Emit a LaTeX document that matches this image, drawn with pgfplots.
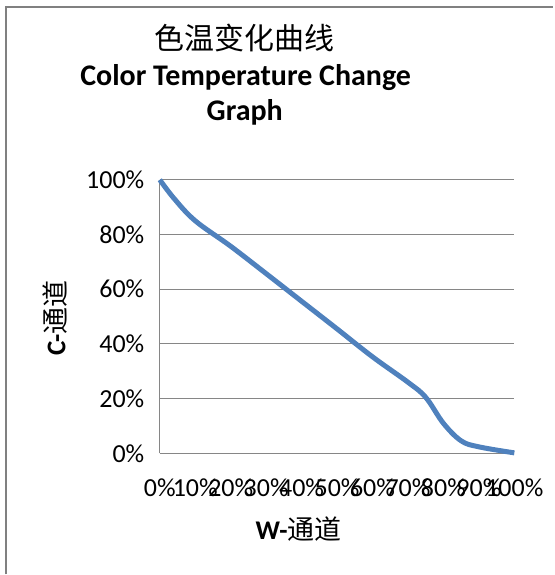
\documentclass[border=0pt]{standalone}
\usepackage{fontspec}
\setmainfont{Carlito}
\newfontfamily\cjk{Noto Sans CJK SC}
\usepackage{pgfplots}
\pgfplotsset{compat=1.18}
\definecolor{xlblue}{HTML}{4F81BD}
\definecolor{gridgray}{HTML}{868686}

\pgfplotstableread{
x y
0 100
4 93.2
10 85
20 75.7
30 65.7
40 55.6
50 45.5
60 35.3
70 26
75 20.5
80 11
85 4.6
90 2.4
100 0.2
}\curve

\begin{document}
\begin{tikzpicture}[x=1pt,y=1pt]
  % page and outer frame (only left and top edges show)
  \path (0,0) rectangle (554,575);
  \draw[gray, line width=1.5pt] (6,0) -- (6,568) -- (554,568);

  \node[font=\cjk\fontsize{30}{33}\selectfont] at (245,537) {色温变化曲线};
  \node[font=\bfseries\fontsize{30}{34}\selectfont] at (246,497) {Color Temperature Change};
  \node[font=\bfseries\fontsize{30}{34}\selectfont] at (245,463) {Graph};

  \begin{axis}[
      at={(160pt,121pt)}, anchor=south west,
      scale only axis, width=355pt, height=274pt,
      xmin=0, xmax=100, ymin=0, ymax=100,
      xtick={0,10,...,100}, ytick={0,20,...,100},
      xticklabel={\pgfmathprintnumber{\tick}\%},
      yticklabel={\pgfmathprintnumber{\tick}\%},
      /pgf/number format/assume math mode=true,
      ticklabel style={font=\fontsize{26}{30}\selectfont},
      xticklabel style={yshift=-22pt},
      yticklabel style={xshift=-12pt},
      major tick length=0pt,
      axis x line*=bottom, axis y line*=left,
      axis line style={gridgray, line width=1pt, -},
      ymajorgrids, grid style={gridgray, line width=1pt},
      clip=false,
    ]
    \addplot[xlblue, line width=5pt, smooth, tension=0.6] table {\curve};
  \end{axis}

  \node[font=\fontsize{27}{31}\selectfont] at (299,45) {\textbf{W-}{\cjk 通道}};
  \node[font=\fontsize{27}{31}\selectfont, rotate=90] at (55,257) {\textbf{C-}{\cjk 通道}};
\end{tikzpicture}
\end{document}
